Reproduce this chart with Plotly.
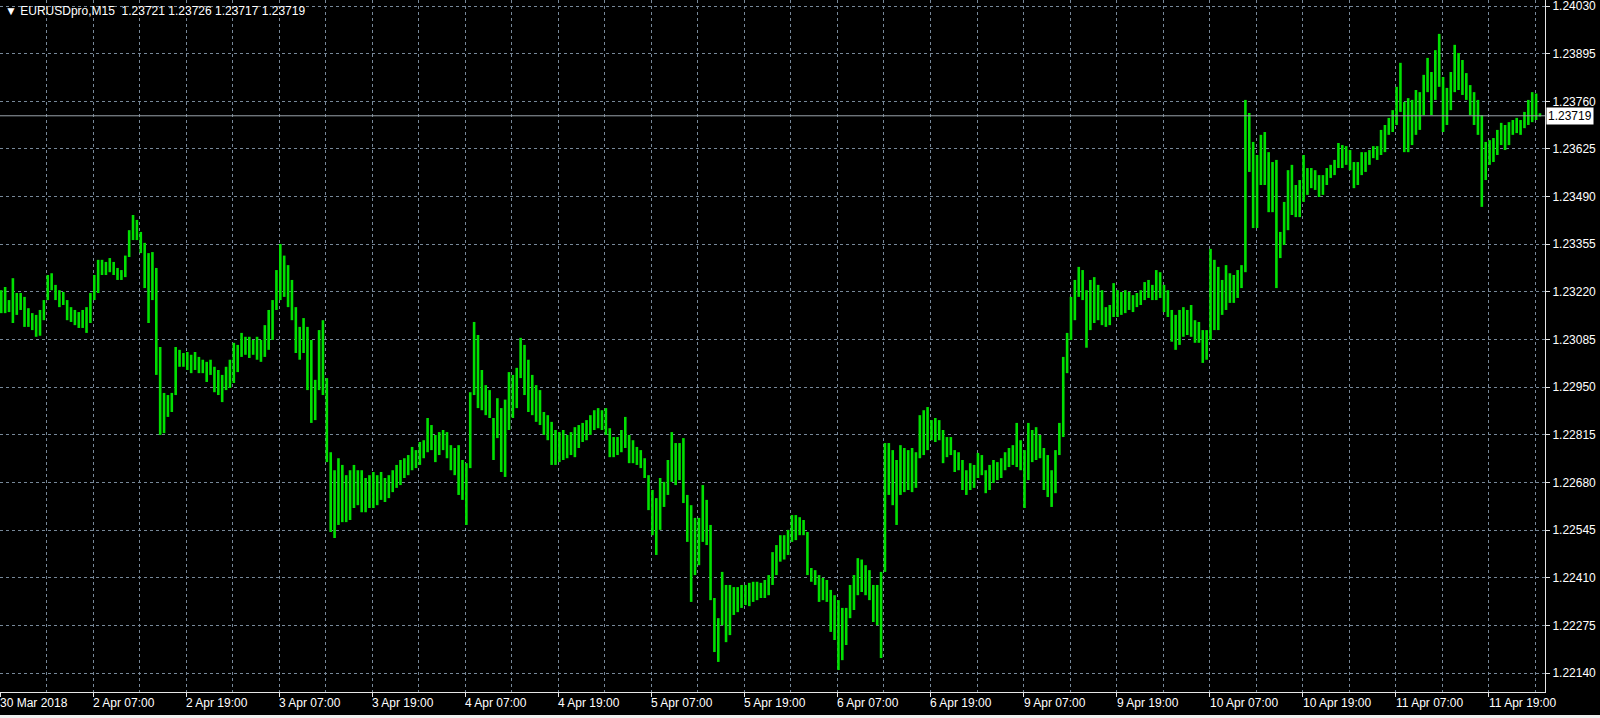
import plotly.graph_objects as go

# ---------------- data ----------------
title_text = "\u25bc EURUSDpro,M15\u00a0\u00a01.23721 1.23726 1.23717 1.23719"
last_price = 1.23719
last_price_text = "1.23719"

# 30-minute high / low values (two M15 slots per bar), left to right
bar_high = [
    1.23225, 1.23234, 1.23197, 1.23259, 1.23217, 1.23217, 1.23206, 1.23174, 1.23160, 1.23155, 1.23169, 1.23197,
    1.23268, 1.23273, 1.23240, 1.23225, 1.23220, 1.23197, 1.23177, 1.23169, 1.23163, 1.23169, 1.23177, 1.23217,
    1.23268, 1.23311, 1.23311, 1.23305, 1.23316, 1.23305, 1.23288, 1.23282, 1.23323, 1.23395, 1.23438, 1.23424,
    1.23390, 1.23359, 1.23330, 1.23333, 1.23288, 1.23064, 1.22934, 1.22928, 1.22934, 1.23064, 1.23056, 1.23047,
    1.23050, 1.23042, 1.23050, 1.23036, 1.23028, 1.23022, 1.23028, 1.23008, 1.22999, 1.22985, 1.23008, 1.23028,
    1.23076, 1.23070, 1.23104, 1.23093, 1.23093, 1.23084, 1.23093, 1.23084, 1.23126, 1.23169, 1.23197, 1.23282,
    1.23356, 1.23323, 1.23296, 1.23254, 1.23177, 1.23121, 1.23146, 1.23121, 1.23084, 1.22971, 1.23112, 1.23140,
    1.22976, 1.22766, 1.22715, 1.22749, 1.22730, 1.22701, 1.22715, 1.22730, 1.22715, 1.22715, 1.22693, 1.22701,
    1.22710, 1.22701, 1.22710, 1.22693, 1.22701, 1.22715, 1.22730, 1.22744, 1.22749, 1.22758, 1.22781, 1.22772,
    1.22795, 1.22800, 1.22863, 1.22843, 1.22815, 1.22823, 1.22829, 1.22823, 1.22786, 1.22778, 1.22786, 1.22744,
    1.22735, 1.22936, 1.23135, 1.23098, 1.22999, 1.22956, 1.22942, 1.22863, 1.22919, 1.22891, 1.22915, 1.22993,
    1.22985, 1.23005, 1.23090, 1.23070, 1.23028, 1.22985, 1.22956, 1.22942, 1.22880, 1.22871, 1.22852, 1.22829,
    1.22823, 1.22829, 1.22815, 1.22823, 1.22837, 1.22843, 1.22849, 1.22857, 1.22871, 1.22885, 1.22891, 1.22885,
    1.22891, 1.22834, 1.22809, 1.22809, 1.22829, 1.22866, 1.22815, 1.22800, 1.22781, 1.22772, 1.22749, 1.22701,
    1.22659, 1.22636, 1.22693, 1.22682, 1.22744, 1.22823, 1.22792, 1.22792, 1.22806, 1.22645, 1.22616, 1.22580,
    1.22580, 1.22673, 1.22631, 1.22560, 1.22353, 1.22296, 1.22427, 1.22390, 1.22390, 1.22384, 1.22384, 1.22390,
    1.22390, 1.22396, 1.22399, 1.22399, 1.22396, 1.22404, 1.22418, 1.22483, 1.22503, 1.22531, 1.22531, 1.22546,
    1.22588, 1.22588, 1.22582, 1.22574, 1.22540, 1.22438, 1.22432, 1.22418, 1.22410, 1.22404, 1.22376, 1.22361,
    1.22347, 1.22325, 1.22325, 1.22390, 1.22418, 1.22466, 1.22462, 1.22446, 1.22432, 1.22390, 1.22390, 1.22427,
    1.22792, 1.22792, 1.22772, 1.22744, 1.22786, 1.22778, 1.22772, 1.22778, 1.22766, 1.22871, 1.22885, 1.22894,
    1.22857, 1.22863, 1.22857, 1.22829, 1.22809, 1.22809, 1.22772, 1.22766, 1.22744, 1.22715, 1.22735, 1.22730,
    1.22764, 1.22758, 1.22715, 1.22730, 1.22744, 1.22738, 1.22749, 1.22766, 1.22778, 1.22786, 1.22849, 1.22800,
    1.22772, 1.22849, 1.22829, 1.22837, 1.22815, 1.22778, 1.22758, 1.22715, 1.22772, 1.22849, 1.23036, 1.23104,
    1.23206, 1.23254, 1.23291, 1.23282, 1.23225, 1.23254, 1.23262, 1.23240, 1.23225, 1.23177, 1.23183, 1.23245,
    1.23225, 1.23220, 1.23225, 1.23220, 1.23211, 1.23217, 1.23225, 1.23248, 1.23254, 1.23240, 1.23282, 1.23276,
    1.23240, 1.23225, 1.23169, 1.23155, 1.23169, 1.23177, 1.23169, 1.23183, 1.23140, 1.23135, 1.23112, 1.23112,
    1.23342, 1.23311, 1.23291, 1.23254, 1.23296, 1.23273, 1.23268, 1.23282, 1.23296, 1.23764, 1.23727, 1.23645,
    1.23608, 1.23665, 1.23673, 1.23616, 1.23588, 1.23594, 1.23390, 1.23475, 1.23565, 1.23580, 1.23523, 1.23537,
    1.23608, 1.23571, 1.23571, 1.23565, 1.23551, 1.23551, 1.23571, 1.23580, 1.23594, 1.23642, 1.23636, 1.23633,
    1.23622, 1.23588, 1.23588, 1.23616, 1.23616, 1.23622, 1.23633, 1.23633, 1.23679, 1.23693, 1.23713, 1.23735,
    1.23801, 1.23869, 1.23758, 1.23769, 1.23764, 1.23792, 1.23786, 1.23835, 1.23883, 1.23843, 1.23905, 1.23951,
    1.23829, 1.23798, 1.23843, 1.23920, 1.23897, 1.23877, 1.23840, 1.23806, 1.23786, 1.23764, 1.23721, 1.23645,
    1.23650, 1.23656, 1.23679, 1.23699, 1.23693, 1.23701, 1.23707, 1.23713, 1.23707, 1.23730, 1.23764, 1.23786,
    1.23782, 1.23726,
]
bar_low = [
    1.23160, 1.23160, 1.23163, 1.23132, 1.23155, 1.23169, 1.23121, 1.23121, 1.23112, 1.23093, 1.23096, 1.23140,
    1.23197, 1.23225, 1.23197, 1.23177, 1.23183, 1.23140, 1.23135, 1.23126, 1.23118, 1.23118, 1.23104, 1.23132,
    1.23197, 1.23217, 1.23268, 1.23268, 1.23276, 1.23268, 1.23254, 1.23254, 1.23262, 1.23319, 1.23367, 1.23367,
    1.23330, 1.23231, 1.23132, 1.23197, 1.22985, 1.22815, 1.22820, 1.22866, 1.22880, 1.22928, 1.23008, 1.23008,
    1.22999, 1.22990, 1.22999, 1.22990, 1.22990, 1.22965, 1.22985, 1.22936, 1.22928, 1.22908, 1.22942, 1.22948,
    1.22962, 1.22993, 1.23036, 1.23042, 1.23033, 1.23042, 1.23028, 1.23022, 1.23036, 1.23056, 1.23084, 1.23169,
    1.23197, 1.23206, 1.23177, 1.23140, 1.23047, 1.23028, 1.23047, 1.22942, 1.22849, 1.22857, 1.22942, 1.22928,
    1.22738, 1.22540, 1.22523, 1.22560, 1.22568, 1.22568, 1.22574, 1.22608, 1.22616, 1.22596, 1.22596, 1.22608,
    1.22608, 1.22616, 1.22631, 1.22625, 1.22636, 1.22653, 1.22665, 1.22673, 1.22693, 1.22701, 1.22715, 1.22721,
    1.22730, 1.22749, 1.22766, 1.22772, 1.22738, 1.22758, 1.22772, 1.22749, 1.22715, 1.22701, 1.22645, 1.22631,
    1.22560, 1.22721, 1.22928, 1.22891, 1.22885, 1.22871, 1.22863, 1.22744, 1.22806, 1.22710, 1.22696, 1.22829,
    1.22863, 1.22891, 1.22976, 1.22928, 1.22880, 1.22871, 1.22852, 1.22843, 1.22815, 1.22800, 1.22730, 1.22730,
    1.22738, 1.22744, 1.22749, 1.22758, 1.22752, 1.22778, 1.22795, 1.22800, 1.22815, 1.22829, 1.22834, 1.22829,
    1.22815, 1.22752, 1.22752, 1.22758, 1.22766, 1.22778, 1.22735, 1.22735, 1.22730, 1.22721, 1.22693, 1.22602,
    1.22531, 1.22475, 1.22546, 1.22611, 1.22645, 1.22682, 1.22673, 1.22687, 1.22622, 1.22512, 1.22342, 1.22418,
    1.22446, 1.22512, 1.22503, 1.22347, 1.22200, 1.22172, 1.22276, 1.22228, 1.22248, 1.22305, 1.22313, 1.22325,
    1.22333, 1.22330, 1.22342, 1.22347, 1.22353, 1.22353, 1.22361, 1.22390, 1.22418, 1.22456, 1.22462, 1.22475,
    1.22512, 1.22517, 1.22531, 1.22531, 1.22418, 1.22399, 1.22390, 1.22342, 1.22347, 1.22342, 1.22257, 1.22234,
    1.22149, 1.22177, 1.22220, 1.22296, 1.22319, 1.22361, 1.22370, 1.22361, 1.22347, 1.22285, 1.22276, 1.22183,
    1.22427, 1.22645, 1.22616, 1.22560, 1.22645, 1.22653, 1.22659, 1.22653, 1.22665, 1.22749, 1.22758, 1.22772,
    1.22800, 1.22795, 1.22800, 1.22735, 1.22752, 1.22758, 1.22710, 1.22715, 1.22659, 1.22645, 1.22659, 1.22665,
    1.22693, 1.22701, 1.22650, 1.22659, 1.22679, 1.22687, 1.22693, 1.22715, 1.22724, 1.22730, 1.22724, 1.22715,
    1.22608, 1.22687, 1.22738, 1.22744, 1.22749, 1.22659, 1.22639, 1.22611, 1.22650, 1.22758, 1.22809, 1.22990,
    1.23084, 1.23140, 1.23206, 1.23197, 1.23062, 1.23112, 1.23132, 1.23140, 1.23126, 1.23121, 1.23126, 1.23149,
    1.23149, 1.23155, 1.23160, 1.23169, 1.23163, 1.23177, 1.23183, 1.23197, 1.23203, 1.23197, 1.23197, 1.23203,
    1.23163, 1.23149, 1.23079, 1.23056, 1.23070, 1.23093, 1.23098, 1.23093, 1.23076, 1.23076, 1.23019, 1.23028,
    1.23084, 1.23112, 1.23112, 1.23155, 1.23169, 1.23189, 1.23189, 1.23203, 1.23231, 1.23276, 1.23560, 1.23401,
    1.23401, 1.23523, 1.23523, 1.23446, 1.23446, 1.23231, 1.23316, 1.23353, 1.23395, 1.23438, 1.23432, 1.23432,
    1.23475, 1.23495, 1.23514, 1.23509, 1.23489, 1.23495, 1.23523, 1.23543, 1.23551, 1.23571, 1.23571, 1.23580,
    1.23565, 1.23514, 1.23523, 1.23551, 1.23560, 1.23580, 1.23599, 1.23594, 1.23608, 1.23616, 1.23665, 1.23673,
    1.23693, 1.23730, 1.23616, 1.23616, 1.23636, 1.23665, 1.23679, 1.23721, 1.23786, 1.23721, 1.23764, 1.23801,
    1.23673, 1.23693, 1.23735, 1.23786, 1.23792, 1.23778, 1.23764, 1.23721, 1.23693, 1.23665, 1.23461, 1.23537,
    1.23580, 1.23588, 1.23608, 1.23636, 1.23622, 1.23636, 1.23665, 1.23670, 1.23665, 1.23684, 1.23693, 1.23701,
    1.23707, 1.23717,
]
slots_per_bar = 2  # each plotted bar spans two M15 slots

# time axis: M15 slot index of each labelled tick and its label
x_tick_index = [0, 48, 96, 144, 192, 240, 288, 336, 384, 432, 480, 528, 576, 624, 672, 720, 768]
x_tick_labels = ["30 Mar 2018", "2 Apr 07:00", "2 Apr 19:00", "3 Apr 07:00", "3 Apr 19:00",
                 "4 Apr 07:00", "4 Apr 19:00", "5 Apr 07:00", "5 Apr 19:00", "6 Apr 07:00",
                 "6 Apr 19:00", "9 Apr 07:00", "9 Apr 19:00", "10 Apr 07:00", "10 Apr 19:00",
                 "11 Apr 07:00", "11 Apr 19:00"]
x_minor_grid_index = [24, 72, 120, 168, 216, 264, 312, 360, 408, 456, 504, 552, 600, 648, 696, 744, 792]

y_ticks = [1.22140, 1.22275, 1.22410, 1.22545, 1.22680, 1.22815, 1.22950, 1.23085,
           1.23220, 1.23355, 1.23490, 1.23625, 1.23760, 1.23895, 1.24030]

# ---------------- figure ----------------
xs, ys = [], []
for j, (h, l) in enumerate(zip(bar_high, bar_low)):
    k = slots_per_bar * j + 0.5
    xs += [k, k, None]
    ys += [h, l, None]

GRID = "#778899"
AXIS = "#e6e6e6"
FONT = "Liberation Sans, Arial, sans-serif"

fig = go.Figure()
fig.add_trace(go.Scatter(x=xs, y=ys, mode="lines",
                         line=dict(color="#00e000", width=2.6),
                         hoverinfo="skip", showlegend=False))

W, H = 1600, 718
ML, MR, MT, MB = 0, 55, 0, 26
plot_h = H - MT - MB
plot_w = W - ML - MR

fig.update_layout(
    width=W, height=H, autosize=False,
    paper_bgcolor="black", plot_bgcolor="black",
    margin=dict(l=ML, r=MR, t=MT, b=MB, pad=0),
    showlegend=False,
    font=dict(family=FONT, size=12, color="white"),
    xaxis=dict(
        range=[-0.15, 797.1], tickmode="array", tickvals=x_tick_index,
        showticklabels=False, ticks="outside", ticklen=4, tickcolor=AXIS,
        showgrid=True, gridcolor=GRID, griddash="3px,3px", gridwidth=1,
        showline=True, linecolor=AXIS, linewidth=1, zeroline=False,
        automargin=False, fixedrange=True,
        minor=dict(tickmode="array", tickvals=x_minor_grid_index, showgrid=True,
                   gridcolor=GRID, griddash="3px,3px", gridwidth=1, ticks=""),
    ),
    yaxis=dict(
        range=[1.220868, 1.240470], side="right", tickmode="array", tickvals=y_ticks,
        tickformat=".5f", ticks="outside", ticklen=4, tickcolor=AXIS,
        tickfont=dict(family=FONT, size=12, color="white"),
        ticklabeloverflow="allow",
        showgrid=True, gridcolor=GRID, griddash="3px,3px", gridwidth=1,
        showline=True, linecolor=AXIS, linewidth=1, zeroline=False,
        automargin=False, fixedrange=True,
    ),
)

# current price line
fig.add_shape(type="line", xref="paper", x0=0, x1=1, yref="y", y0=last_price, y1=last_price,
              line=dict(color="#9aa2ab", width=1))

# current price box on the price scale
fig.add_annotation(xref="paper", x=1, xanchor="left", xshift=1, yref="y", y=last_price,
                   yanchor="middle", text=last_price_text, showarrow=False,
                   bgcolor="white", borderpad=1,
                   font=dict(family=FONT, size=12, color="black"))

# time labels, left-aligned at their ticks
label_y = (plot_h - 703) / plot_h
for k, lab in zip(x_tick_index, x_tick_labels):
    fig.add_annotation(xref="x", x=k, xanchor="left", xshift=-2,
                       yref="paper", y=label_y, yanchor="middle",
                       text=lab, showarrow=False,
                       font=dict(family=FONT, size=12, color="white"))

# symbol header
fig.add_annotation(xref="paper", x=0, xanchor="left", xshift=3,
                   yref="paper", y=1 - 11 / plot_h, yanchor="middle",
                   text=title_text, showarrow=False,
                   font=dict(family=FONT, size=12, color="white"))

# light window edge at the bottom
fig.add_shape(type="rect", xref="paper", x0=0, x1=W / plot_w, yref="paper",
              y0=(plot_h - 715) / plot_h, y1=(plot_h - 719) / plot_h,
              fillcolor="#f0f0f0", line=dict(width=0), layer="above")

fig.write_html("out.html", config={"displayModeBar": False, "staticPlot": True},
               post_script="document.body.style.margin='0';document.body.style.overflow='hidden';")
